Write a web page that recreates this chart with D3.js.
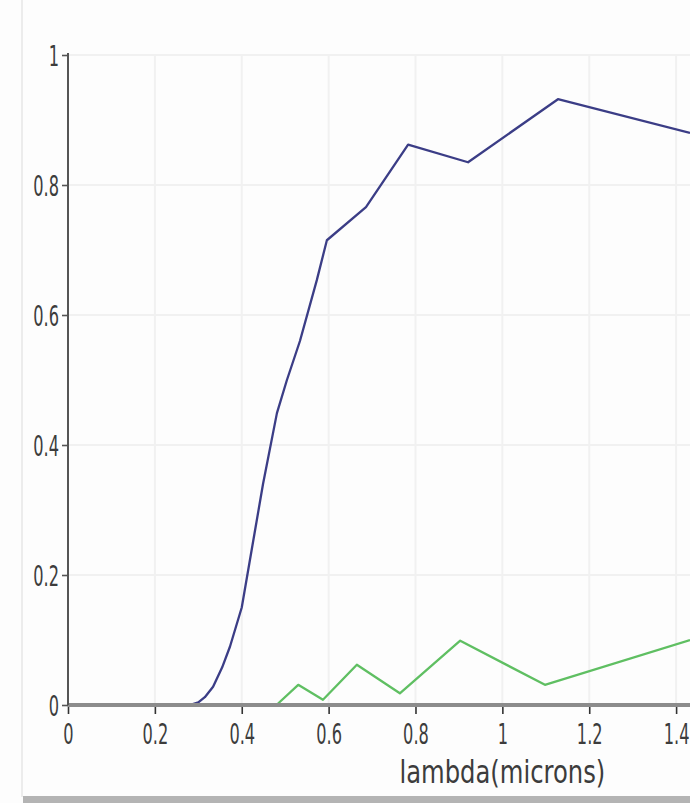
<!DOCTYPE html>
<html>
<head>
<meta charset="utf-8">
<script src="https://cdn.jsdelivr.net/npm/d3@7"></script>
<style>
  html, body { margin: 0; padding: 0; background: #fdfdfd; }
  svg { display: block; }
  .lbl { font-family: "Liberation Sans Narrow", "DejaVu Sans Condensed", "Roboto Condensed", sans-serif; fill: #3c3c3c; }
</style>
</head>
<body>
<svg id="chart" width="690" height="803"></svg>
<script>
// Wavelength grid and response curves
const blueLambda = [0, 0.1, 0.2, 0.28, 0.30, 0.315, 0.334, 0.355, 0.373, 0.40, 0.424, 0.449, 0.481, 0.504, 0.534, 0.573, 0.596, 0.686, 0.783, 0.921, 1.128, 1.432];
const blueValue  = [0, 0,   0,   0,    0.004, 0.012, 0.028, 0.058, 0.09, 0.15, 0.243, 0.34, 0.449, 0.5,  0.56,  0.654, 0.715, 0.766, 0.862, 0.835, 0.932, 0.88];

const greenLambda = [0, 0.48, 0.53, 0.587, 0.665, 0.764, 0.903, 1.098, 1.432];
const greenValue  = [0, 0,    0.031, 0.008, 0.062, 0.018, 0.099, 0.031, 0.10];

const xTicks = [0, 0.2, 0.4, 0.6, 0.8, 1, 1.2, 1.4];
const yTicks = [0, 0.2, 0.4, 0.6, 0.8, 1];
const xTitle = "lambda(microns)";

const svg = d3.select("#chart");
const W = 690, H = 803;

const x = d3.scaleLinear().domain([0, 1.432]).range([68, 690]);
const y = d3.scaleLinear().domain([0, 1]).range([705, 55]);

// panel frame: faint left edge and a grey bottom band
svg.append("line").attr("x1", 22).attr("x2", 22).attr("y1", 0).attr("y2", 797)
  .attr("stroke", "#ececec").attr("stroke-width", 2);
svg.append("rect").attr("x", 23).attr("y", 796).attr("width", W - 23).attr("height", 7)
  .attr("fill", "#b4b4b4");

// grid
const grid = svg.append("g").attr("stroke", "#f1f1f1").attr("stroke-width", 2);
grid.selectAll("line.v").data(xTicks.slice(1)).join("line")
  .attr("x1", d => x(d)).attr("x2", d => x(d)).attr("y1", y(1)).attr("y2", y(0));
grid.selectAll("line.h").data(yTicks.slice(1)).join("line")
  .attr("x1", x(0)).attr("x2", W).attr("y1", d => y(d)).attr("y2", d => y(d));

// curves
const line = d3.line().x(d => x(d[0])).y(d => y(d[1]));
svg.append("path").datum(greenLambda.map((l, i) => [l, greenValue[i]]))
  .attr("d", line).attr("fill", "none").attr("stroke", "#5fbf62").attr("stroke-width", 2.3)
  .attr("stroke-linejoin", "round");
svg.append("path").datum(blueLambda.map((l, i) => [l, blueValue[i]]))
  .attr("d", line).attr("fill", "none").attr("stroke", "#3b3d86").attr("stroke-width", 2.3)
  .attr("stroke-linejoin", "round");

// x axis
const xAxis = d3.axisBottom(x).tickValues(xTicks).tickSize(9).tickSizeOuter(0).tickFormat(d => String(d));
const gx = svg.append("g").attr("transform", `translate(0,${y(0)})`).call(xAxis);
gx.select(".domain").remove();
svg.append("line").attr("x1", x(0)).attr("x2", W).attr("y1", y(0)).attr("y2", y(0))
  .attr("stroke", "#8c8c8c").attr("stroke-width", 4);
gx.selectAll(".tick line").attr("stroke", "#333").attr("stroke-width", 1.6);
gx.selectAll(".tick text").attr("class", "lbl").attr("font-size", 18)
  .attr("y", 0).attr("dy", 0)
  .attr("transform", "translate(0,39) scale(1,1.55)");

// y axis
const yAxis = d3.axisLeft(y).tickValues(yTicks).tickSize(6).tickSizeOuter(0).tickFormat(d => String(d));
const gy = svg.append("g").attr("transform", `translate(${x(0)},0)`).call(yAxis);
gy.select(".domain").attr("stroke", "#555").attr("stroke-width", 2)
  .attr("d", `M0,${y(0)}V${y(1) - 2}`);
gy.selectAll(".tick line").attr("stroke", "#555").attr("stroke-width", 1.6);
gy.selectAll(".tick text").attr("class", "lbl").attr("font-size", 18)
  .attr("x", 0).attr("dy", 0).attr("text-anchor", "end")
  .attr("transform", "translate(-9,10) scale(1,1.55)");

// axis title
svg.append("text").attr("class", "lbl")
  .attr("font-size", 27).attr("text-anchor", "middle")
  .attr("transform", `translate(${x(1)},783) scale(1,1.15)`)
  .text(xTitle);
</script>
</body>
</html>
